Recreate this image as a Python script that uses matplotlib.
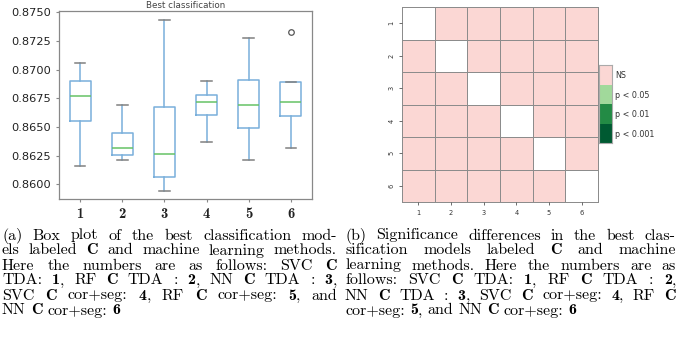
import matplotlib
matplotlib.use("Agg")
import numpy as np
import matplotlib.pyplot as plt
from matplotlib.colors import ListedColormap

# box plot statistics (models 1..6)
models = ["1", "2", "3", "4", "5", "6"]
whislo = [0.8616, 0.8621, 0.85945, 0.8637, 0.8621, 0.8632]
q1 = [0.86555, 0.86253, 0.86064, 0.86608, 0.86491, 0.86593]
med = [0.86767, 0.8632, 0.86265, 0.86715, 0.86689, 0.86715]
q3 = [0.86901, 0.86451, 0.86674, 0.86782, 0.86913, 0.8689]
whishi = [0.87061, 0.86689, 0.87433, 0.86901, 0.87273, 0.8689]
fliers = [[], [], [], [], [], [0.87326]]
yticks = [0.8600, 0.8625, 0.8650, 0.8675, 0.8700, 0.8725, 0.8750]

# significance matrix: -1 = diagonal, 0 = NS, 1 = p<0.05, 2 = p<0.01, 3 = p<0.001
sig = [[-1, 0, 0, 0, 0, 0],
       [0, -1, 0, 0, 0, 0],
       [0, 0, -1, 0, 0, 0],
       [0, 0, 0, -1, 0, 0],
       [0, 0, 0, 0, -1, 0],
       [0, 0, 0, 0, 0, -1]]
sig_labels = ["NS", "p < 0.05", "p < 0.01", "p < 0.001"]
sig_colors = ["#fbd7d4", "#a1d99b", "#238b45", "#005a32"]

# captions, **x** = bold
cap_a = [
    "(a) Box plot of the best classification mod-",
    "els labeled **C** and machine learning methods.",
    "Here the numbers are as follows: SVC **C**",
    "TDA: **1**, RF **C** TDA : **2**, NN **C** TDA : **3**,",
    "SVC **C** cor+seg: **4**, RF **C** cor+seg: **5**, and",
    "NN **C** cor+seg: **6**",
]
cap_b = [
    "(b) Significance differences in the best clas-",
    "sification models labeled **C** and machine",
    "learning methods. Here the numbers are as",
    "follows: SVC **C** TDA: **1**, RF **C** TDA : **2**,",
    "NN **C** TDA : **3**, SVC **C** cor+seg: **4**, RF **C**",
    "cor+seg: **5**, and NN **C** cor+seg: **6**",
]

W, H = 685, 352
fig = plt.figure(figsize=(W / 100, H / 100), dpi=100)

# ---- (a) box plot
ax = fig.add_axes([59 / W, 1 - 199 / H, 253 / W, 188 / H])
stats = []
for i in range(len(models)):
    stats.append(dict(label=models[i], whislo=whislo[i], q1=q1[i], med=med[i],
                      q3=q3[i], whishi=whishi[i], fliers=fliers[i]))
ax.bxp(stats, positions=range(1, len(models) + 1), widths=0.5,
       boxprops=dict(color="#79afdb", lw=1.1),
       whiskerprops=dict(color="#79afdb", lw=1.1),
       capprops=dict(color="#808080", lw=1.1),
       medianprops=dict(color="#66c266", lw=1.1),
       flierprops=dict(marker="o", markerfacecolor="none", markeredgecolor="#555555",
                       markersize=4, markeredgewidth=0.9))
ax.set_xlim(0.5, 6.5)
ax.set_ylim(0.85872, 0.87511)
ax.set_yticks(yticks)
ax.set_yticklabels(["%.4f" % v for v in yticks], fontsize=8.2)
ax.set_xticks(range(1, len(models) + 1))
ax.set_xticklabels(models, fontfamily="cmb10", fontsize=10.5)
ax.tick_params(colors="#888888", length=2.5, width=0.8, labelcolor="#222222")
for s in ax.spines.values():
    s.set_color("#888888")
    s.set_linewidth(0.9)
ax.set_title("Best classification", fontsize=6.3, color="#444444", pad=2)

# ---- (b) significance heatmap
axh = fig.add_axes([402 / W, 1 - 202 / H, 196 / W, 195 / H])
cmap = ListedColormap(["white"] + sig_colors)
arr = np.array(sig)
mesh = axh.pcolormesh(np.arange(arr.shape[1] + 1), np.arange(arr.shape[0] + 1), arr,
                      cmap=cmap, vmin=-1.5, vmax=3.5, edgecolors="#8c8c8c", linewidth=0.6)
mesh.set_clip_on(False)
axh.set_xlim(0, 6)
axh.set_ylim(6, 0)
axh.set_xticks(np.arange(6) + 0.5)
axh.set_xticklabels(models, fontsize=4.8)
axh.set_yticks(np.arange(6) + 0.5)
axh.set_yticklabels(models, fontsize=4.8, rotation=90, va="center")
axh.tick_params(colors="#555555", length=2, width=0.6, labelcolor="#333333")
for s in axh.spines.values():
    s.set_visible(False)

cax = fig.add_axes([599 / W, 1 - 143 / H, 13 / W, 78 / H])
cax.pcolormesh([0, 1], np.arange(len(sig_labels) + 1),
               np.arange(len(sig_labels)).reshape(-1, 1),
               cmap=ListedColormap(sig_colors), vmin=-0.5, vmax=len(sig_labels) - 0.5)
cax.set_ylim(len(sig_labels), 0)
cax.set_xticks([])
cax.yaxis.tick_right()
cax.set_yticks(np.arange(len(sig_labels)) + 0.5)
cax.set_yticklabels(sig_labels, fontsize=5.8, color="#333333")
cax.tick_params(length=0, pad=2)
for s in cax.spines.values():
    s.set_color("#aaaaaa")
    s.set_linewidth(0.8)

# ---- captions, justified line by line
renderer = fig.canvas.get_renderer()


def caption(lines, x0, x1, base0, step, fs=11.5):
    for li, line in enumerate(lines):
        y = 1 - (base0 + li * step) / H
        words = []
        for w in line.split(" "):
            parts = w.split("**")
            segs = []
            for k, p in enumerate(parts):
                if p:
                    fam = "cmb10" if k % 2 else "cmr10"
                    t = fig.text(0, y, p, fontfamily=fam, fontsize=fs, va="baseline", ha="left")
                    segs.append((t, t.get_window_extent(renderer).width))
            words.append(segs)
        widths = [sum(s[1] for s in segs) for segs in words]
        if li < len(lines) - 1:
            gap = (x1 - x0 - sum(widths)) / (len(words) - 1)
        else:
            gap = fs * 0.45
        x = x0
        for segs, w in zip(words, widths):
            xx = x
            for t, sw in segs:
                t.set_x(xx / W)
                xx += sw
            x += w + gap


caption(cap_a, 2, 337, 239.5, 15)
caption(cap_b, 345, 676, 239.5, 15)

fig.savefig("out.png", dpi=100)
